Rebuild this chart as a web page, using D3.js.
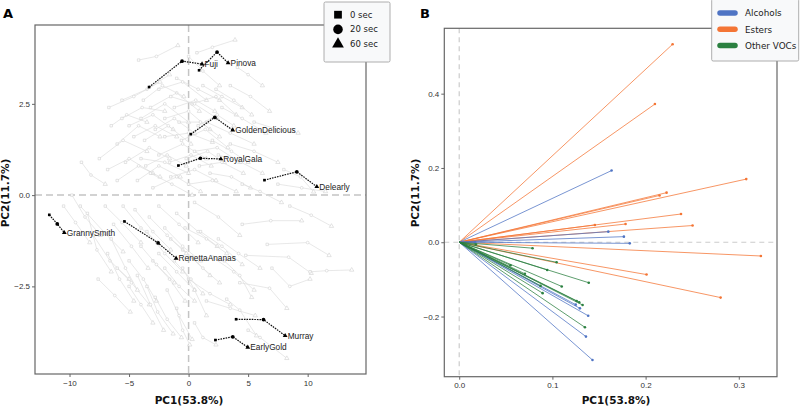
<!DOCTYPE html>
<html><head><meta charset="utf-8">
<script src="https://cdn.jsdelivr.net/npm/d3@7"></script>
<style>
body{margin:0;background:#fff;}
svg{display:block;}
.tick text{font-family:"Liberation Sans",Arial,sans-serif;font-size:8px;fill:#333;}
</style></head>
<body><svg id="c" width="800" height="406"></svg>
<script>
// ---------- Panel A data ----------
const timeLabels = ["0 sec","20 sec","60 sec"];
const xTicksA = [-10,-5,0,5,10];
const yTicksA = [-2.5,0.0,2.5];
const cultivars = ["Fuji","Pinova","GoldenDelicious","RoyalGala","Delearly","GrannySmith","RenettaAnanas","Murray","EarlyGold"];
// [x,y] at 0 s, 20 s, 60 s
const cult0s  = [[-3.32,2.96],[0.88,3.42],[0.18,1.67],[-0.86,0.81],[6.37,0.41],[-11.70,-0.54],[-5.39,-0.72],[3.99,-3.40],[2.25,-3.97]];
const cult20s = [[-0.55,3.67],[2.39,3.92],[2.20,2.13],[0.99,1.01],[9.09,0.64],[-11.03,-0.79],[-2.56,-1.31],[6.29,-3.41],[3.71,-3.88]];
const cult60s = [[1.13,3.59],[3.32,3.62],[3.71,1.78],[2.71,0.99],[10.77,0.23],[-10.44,-1.03],[-1.05,-1.73],[8.11,-3.85],[4.97,-4.17]];
// replicate samples: [x0,y0, x20,y20, x60,y60]
const sampleTracks = [
[-4.2,3.7,-2.7,3.8,-0.9,4.1],[0.7,3.9,2.0,4.05,3.9,4.25],[-5.6,2.6,-3.5,2.9,-1.6,3.3],[-6.7,2.4,-4.6,2.7,-2.4,3.1],
[4.1,3.5,5.0,3.3,6.2,3.0],[-1.0,3.2,0.8,2.9,2.6,2.6],[-2.5,2.9,-0.5,3.1,1.5,2.6],[1.2,3.0,2.8,2.7,4.5,2.4],
[-3.2,2.4,-1.0,2.8,0.9,2.3],[-4.0,2.1,-2.0,2.5,0.0,2.0],[0.3,2.5,2.3,2.7,4.0,2.2],[2.8,2.4,4.5,2.1,6.5,1.7],
[-5.0,1.9,-3.0,2.2,-1.3,1.8],[-2.0,2.1,0.0,2.3,1.8,1.8],[1.5,2.0,3.5,1.7,5.5,1.4],[-6.0,1.4,-4.2,1.9,-2.4,1.6],
[-3.7,1.5,-1.7,1.9,0.2,1.4],[-0.6,1.5,1.4,1.8,3.3,1.3],[5.5,2.0,7.5,1.8,9.2,1.7],[-7.5,1.0,-5.5,1.5,-3.5,1.2],
[-5.3,0.9,-3.3,1.3,-1.6,1.0],[-2.5,1.1,-0.5,1.4,1.5,1.0],[0.5,1.2,2.4,1.3,4.3,0.9],[2.5,1.1,4.4,0.9,6.2,0.6],
[-9.0,0.9,-8.2,0.55,-7.0,0.3],[-6.8,0.7,-5.0,1.0,-3.0,0.6],[-4.3,0.4,-2.5,0.8,-0.7,0.5],[-1.5,0.5,0.5,0.7,2.3,0.4],
[1.8,0.6,3.6,0.5,5.2,0.2],[3.5,1.4,5.5,1.2,7.5,0.9],[7.5,0.3,9.5,0.2,11.5,0.1],[-3.0,0.2,-1.0,0.5,1.0,0.1],
[0.0,0.3,2.0,0.4,4.0,0.1],[-10.5,-0.3,-9.5,-0.75,-8.3,-1.3],[-9.1,-0.3,-7.0,-1.05,-5.5,-1.55],[-7.0,-0.3,-5.6,-0.75,-4.0,-1.3],
[-8.0,-1.1,-6.6,-1.8,-5.0,-2.3],[-7.6,-2.3,-6.2,-2.75,-4.9,-3.2],[-6.0,-2.0,-4.8,-2.4,-3.3,-3.0],[-5.0,-1.8,-3.8,-2.3,-2.7,-2.9],
[-4.3,-2.2,-3.2,-3.0,-2.1,-3.7],[-3.5,-2.5,-2.6,-3.2,-1.3,-3.8],[-1.0,-3.1,-0.5,-3.7,0.1,-4.1],[-1.8,-2.6,-0.8,-3.3,0.3,-3.95],
[-2.5,-1.6,-1.0,-2.1,0.5,-2.6],[-3.5,-1.0,-2.0,-1.6,-0.5,-2.1],[-6.3,-0.8,-4.8,-1.4,-3.4,-2.0],[-4.5,-0.4,-3.0,-1.0,-1.5,-1.5],
[-2.5,-0.3,-0.8,-0.8,0.8,-1.3],[-1.0,-0.5,0.8,-1.0,2.4,-1.4],[0.5,-0.2,2.5,-0.6,4.3,-1.1],[1.0,-1.0,2.8,-1.4,4.5,-1.9],
[4.5,-0.8,6.9,-0.7,9.5,-0.7],[8.5,-0.3,10.3,-0.55,12.0,-0.85],[6.6,-1.35,10.0,-1.3,11.8,-1.65],[4.8,-1.65,8.4,-1.7,10.3,-2.14],
[10.2,-2.1,11.6,-2.07,13.7,-2.05],[7.0,-2.0,8.5,-2.5,10.2,-2.3],[2.0,-1.7,3.8,-2.1,5.5,-2.6],[0.0,-2.3,1.8,-2.7,3.5,-3.0],
[1.5,-2.9,3.5,-3.1,5.6,-3.3],[4.3,-2.4,6.8,-2.55,8.25,-3.1],[3.0,-1.8,4.3,-2.2,5.3,-2.8],[5.0,-3.7,6.0,-3.9,8.25,-4.47],
[3.2,-2.85,4.3,-3.15,5.7,-3.85],[0.5,-3.5,1.2,-3.9,2.3,-4.1],[-1.5,-1.2,0.3,-1.7,1.8,-2.2],[-0.5,-1.5,1.2,-2.0,2.6,-2.4],
[-3.0,-1.8,-1.6,-2.3,-0.3,-2.9],[-5.5,-0.3,-4.0,-0.9,-2.6,-1.3],[-8.5,-0.5,-7.7,-1.5,-6.5,-2.1],[-6.5,-1.2,-5.3,-2.0,-4.3,-2.6],
[-5.0,-2.5,-4.0,-3.0,-3.0,-3.5],[-0.5,-2.0,0.5,-2.6,1.5,-3.3],[-2.0,-2.0,-0.8,-2.5,0.5,-2.9],[0.0,3.8,1.2,3.4,2.6,3.0],
[3.5,3.0,5.2,2.7,6.8,2.3],[-6.5,1.9,-5.2,2.2,-3.5,2.0],[-1.5,2.7,0.5,2.5,2.4,2.1],[-4.0,1.0,-2.0,0.9,0.0,0.6],
[4.5,0.3,6.0,0.1,7.8,-0.2],[-9.8,0.0,-8.7,-0.6,-7.4,-1.1],[8.0,0.7,9.4,0.5,10.5,0.09],[-2.0,1.6,0.0,1.7,2.0,1.45],
[2.0,1.5,3.6,1.2,5.0,0.9],
[-3.8,2.6,-2.2,3.0,-0.4,2.7],[-1.2,2.4,0.6,2.6,2.2,2.3],[0.8,1.9,2.4,2.2,3.8,1.9],[-4.6,1.6,-2.8,1.9,-1.0,1.6],
[-2.8,1.8,-1.2,2.1,0.5,1.7],[-0.2,1.0,1.6,1.2,3.0,0.9],[-3.6,0.8,-1.8,1.1,-0.2,0.8],[-6.0,0.4,-4.2,0.8,-2.4,0.5],
[-1.6,0.9,0.2,1.1,1.9,0.8],[0.9,0.8,2.8,0.9,4.6,0.6],[-5.6,2.1,-3.9,2.4,-2.0,2.3],[-0.8,2.0,1.0,2.0,2.6,1.6],
[-3.3,-0.6,-1.8,-1.1,-0.2,-1.6],[-2.0,-0.9,-0.5,-1.4,1.0,-1.8],[-4.0,-1.4,-2.7,-1.9,-1.2,-2.4],[-1.2,-1.8,0.2,-2.3,1.2,-2.7],
[-6.8,-1.6,-5.8,-2.3,-4.6,-2.9],[-2.8,-2.8,-1.8,-3.4,-0.6,-3.9],[-3.2,0.6,-1.4,0.3,0.3,0.0],[2.3,2.9,3.8,2.6,5.3,2.2],
[-0.3,-0.9,1.5,-1.2,3.2,-1.6],[2.5,-1.2,4.2,-1.6,6.0,-2.0]
];

// ---------- Panel B data ----------
const groups = ["Alcohols","Esters","Other VOCs"];
const groupColors = ["#4f74c4","#f47535","#2b8040"];
const xTicksB = [0.0,0.1,0.2,0.3];
const yTicksB = [-0.2,0.0,0.2,0.4];
const alcoholsPC1 = [0.1635,0.160,0.1767,0.183,0.1295,0.1384,0.136,0.143,0.017,0.125];
const alcoholsPC2 = [0.193,0.0285,0.015,-0.003,-0.178,-0.198,-0.254,-0.317,0.0,-0.168];
const estersPC1 = [0.229,0.210,0.308,0.2225,0.215,0.238,0.1785,0.1456,0.2504,0.3237,0.201,0.2805];
const estersPC2 = [0.533,0.372,0.170,0.1335,0.126,0.076,0.049,0.0466,0.045,-0.037,-0.087,-0.149];
const otherPC1 = [0.0787,0.1045,0.0944,0.139,0.110,0.0705,0.126,0.1288,0.1324,0.1349,0.0873,0.0895,0.018,0.055];
const otherPC2 = [-0.016,-0.054,-0.0746,-0.109,-0.119,-0.085,-0.158,-0.1615,-0.169,-0.229,-0.1176,-0.137,-0.006,-0.062];

const svg = d3.select("#c");
const sans = "'DejaVu Sans',sans-serif";
const arial = "'Liberation Sans',Arial,sans-serif";

// ================= Panel A =================
const A = {l:35,r:366,t:25,b:374};
const xA = d3.scaleLinear().domain([-12.9,14.9]).range([A.l,A.r]);
const yA = d3.scaleLinear().domain([-4.9,4.66]).range([A.b,A.t]);
const gA = svg.append("g");

gA.append("line").attr("x1",xA(0)).attr("x2",xA(0)).attr("y1",A.t).attr("y2",A.b)
  .attr("stroke","#c4c4c4").attr("stroke-width",1.5).attr("stroke-dasharray","7,4");
gA.append("line").attr("x1",A.l).attr("x2",A.r).attr("y1",yA(0)).attr("y2",yA(0))
  .attr("stroke","#c4c4c4").attr("stroke-width",1.5).attr("stroke-dasharray","7,4");

const sym = [d3.symbolSquare,d3.symbolCircle,d3.symbolTriangle];
function pts(t){return [[t[0],t[1]],[t[2],t[3]],[t[4],t[5]]];}
const line = d3.line().x(d=>xA(d[0])).y(d=>yA(d[1]));

const grayG = gA.append("g");
sampleTracks.forEach(t=>{
  const p = pts(t);
  grayG.append("path").attr("d",line(p)).attr("fill","none").attr("stroke","#dedede").attr("stroke-width",0.7);
  p.forEach((d,i)=>{
    grayG.append("path").attr("d",d3.symbol().type(sym[i]).size(i==2?8:6)())
      .attr("transform",`translate(${xA(d[0])},${yA(d[1])})`)
      .attr("fill","white").attr("stroke","#cdcdcd").attr("stroke-width",0.55);
  });
});

const hiG = gA.append("g");
cultivars.forEach((name,k)=>{
  const p = [cult0s[k],cult20s[k],cult60s[k]];
  hiG.append("path").attr("d",line(p)).attr("fill","none").attr("stroke","#111")
    .attr("stroke-width",1.2).attr("stroke-dasharray","1.6,1");
  p.forEach((d,i)=>{
    hiG.append("path").attr("d",d3.symbol().type(sym[i]).size(i==0?7:(i==1?11:10))())
      .attr("transform",`translate(${xA(d[0])},${yA(d[1])})`).attr("fill","#000");
  });
  hiG.append("text").attr("x",xA(cult60s[k][0])+2.5).attr("y",yA(cult60s[k][1])+3)
    .attr("font-family",arial).attr("font-size",8.3).attr("fill","#222").text(name);
});

gA.append("rect").attr("x",A.l).attr("y",A.t).attr("width",A.r-A.l).attr("height",A.b-A.t)
  .attr("fill","none").attr("stroke","#666").attr("stroke-width",1.2);
const axA_x = gA.append("g").attr("transform",`translate(0,${A.b})`)
  .call(d3.axisBottom(xA).tickValues(xTicksA).tickSize(3).tickPadding(3).tickFormat(d3.format("d")));
const axA_y = gA.append("g").attr("transform",`translate(${A.l},0)`)
  .call(d3.axisLeft(yA).tickValues(yTicksA).tickSize(3).tickPadding(2).tickFormat(d3.format(".1f")));
[axA_x,axA_y].forEach(a=>{a.select(".domain").remove();a.selectAll(".tick line").attr("stroke","#666");});

gA.append("text").attr("x",189).attr("y",404).attr("text-anchor","middle")
  .attr("font-family",sans).attr("font-weight","bold").attr("font-size",10.5).attr("fill","#111").text("PC1(53.8%)");
gA.append("text").attr("transform","translate(9,193) rotate(-90)").attr("text-anchor","middle")
  .attr("font-family",sans).attr("font-weight","bold").attr("font-size",10.5).attr("fill","#111").text("PC2(11.7%)");
svg.append("text").attr("x",3).attr("y",18).attr("font-family",sans).attr("font-weight","bold")
  .attr("font-size",13).text("A");

const lgA = svg.append("g");
lgA.append("rect").attr("x",324).attr("y",2).attr("width",66).attr("height",60).attr("rx",1.5)
  .attr("fill","#f8f9fa").attr("stroke","#9a9a9a").attr("stroke-width",0.8);
timeLabels.forEach((t,i)=>{
  const yy = 14.7 + i*14.7;
  lgA.append("path").attr("d",d3.symbol().type(sym[i]).size(i==0?60:(i==1?72:60))())
    .attr("transform",`translate(338,${yy})`).attr("fill","#000");
  lgA.append("text").attr("x",350).attr("y",yy+3).attr("font-family",sans).attr("font-size",8.5)
    .attr("fill","#222").text(t);
});

// ================= Panel B =================
const B = {l:444.3,r:777,t:28.3,b:376.7};
const xB = d3.scaleLinear().domain([-0.016,0.341]).range([B.l,B.r]);
const yB = d3.scaleLinear().domain([-0.362,0.576]).range([B.b,B.t]);
const gB = svg.append("g");

gB.append("line").attr("x1",xB(0)).attr("x2",xB(0)).attr("y1",B.t).attr("y2",B.b)
  .attr("stroke","#cccccc").attr("stroke-width",1.2).attr("stroke-dasharray","5,4");
gB.append("line").attr("x1",B.l).attr("x2",B.r).attr("y1",yB(0)).attr("y2",yB(0))
  .attr("stroke","#cccccc").attr("stroke-width",1.2).attr("stroke-dasharray","5,4");

const series = [[alcoholsPC1,alcoholsPC2],[estersPC1,estersPC2],[otherPC1,otherPC2]];
const drawOrder = [1,0,2];
drawOrder.forEach(gi=>{
  const [xs,ys] = series[gi];
  xs.forEach((v,j)=>{
    gB.append("line").attr("x1",xB(0)).attr("y1",yB(0)).attr("x2",xB(v)).attr("y2",yB(ys[j]))
      .attr("stroke",groupColors[gi]).attr("stroke-width",0.9).attr("stroke-opacity",0.85);
    gB.append("circle").attr("cx",xB(v)).attr("cy",yB(ys[j])).attr("r",1.3).attr("fill",groupColors[gi]);
  });
});

gB.append("rect").attr("x",B.l).attr("y",B.t).attr("width",B.r-B.l).attr("height",B.b-B.t)
  .attr("fill","none").attr("stroke","#666").attr("stroke-width",1.2);
const axB_x = gB.append("g").attr("transform",`translate(0,${B.b})`)
  .call(d3.axisBottom(xB).tickValues(xTicksB).tickSize(3).tickPadding(3).tickFormat(d3.format(".1f")));
const axB_y = gB.append("g").attr("transform",`translate(${B.l},0)`)
  .call(d3.axisLeft(yB).tickValues(yTicksB).tickSize(3).tickPadding(2).tickFormat(d3.format(".1f")));
[axB_x,axB_y].forEach(a=>{a.select(".domain").remove();a.selectAll(".tick line").attr("stroke","#666");});

gB.append("text").attr("x",616).attr("y",404).attr("text-anchor","middle")
  .attr("font-family",sans).attr("font-weight","bold").attr("font-size",10.5).attr("fill","#111").text("PC1(53.8%)");
gB.append("text").attr("transform","translate(419,193) rotate(-90)").attr("text-anchor","middle")
  .attr("font-family",sans).attr("font-weight","bold").attr("font-size",10.5).attr("fill","#111").text("PC2(11.7%)");
svg.append("text").attr("x",420).attr("y",18).attr("font-family",sans).attr("font-weight","bold")
  .attr("font-size",13).text("B");

const lgB = svg.append("g");
lgB.append("rect").attr("x",711.7).attr("y",-1).attr("width",87).attr("height",62).attr("rx",1.5)
  .attr("fill","#f8f9fa").attr("stroke","#9a9a9a").attr("stroke-width",0.8);
groups.forEach((g,i)=>{
  const yy = 13 + i*16.3;
  lgB.append("line").attr("x1",720).attr("x2",735).attr("y1",yy).attr("y2",yy)
    .attr("stroke",groupColors[i]).attr("stroke-width",5.5).attr("stroke-linecap","round");
  lgB.append("text").attr("x",745).attr("y",yy+3.2).attr("font-family",sans).attr("font-size",8.8)
    .attr("fill","#222").text(g);
});
</script></body></html>
